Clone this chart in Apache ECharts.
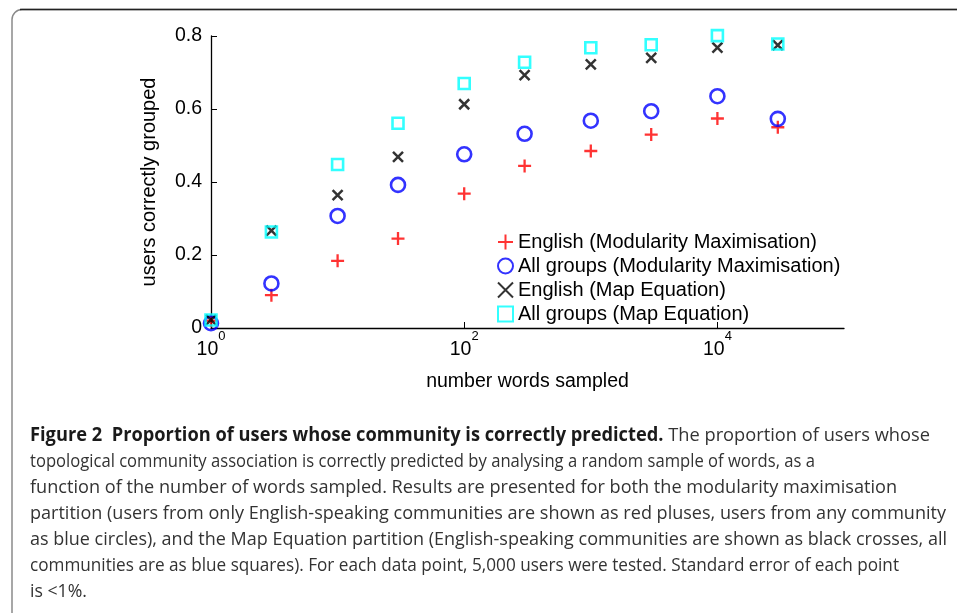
<!DOCTYPE html>
<html>
<head>
<meta charset="utf-8">
<script src="https://cdn.jsdelivr.net/npm/echarts@6/dist/echarts.min.js"></script>
<style>
html,body{margin:0;padding:0;background:#fff;}
#chart{width:957px;height:613px;}
</style>
</head>
<body>
<div id="chart"></div>
<script>
// ---- data ----
const wordsSampled = [1, 3, 10, 30, 100, 300, 1000, 3000, 10000, 30000];
const englishMM = [0.020, 0.090, 0.184, 0.245, 0.368, 0.444, 0.485, 0.530, 0.574, 0.550];
const allMM     = [0.013, 0.122, 0.307, 0.392, 0.476, 0.532, 0.568, 0.594, 0.635, 0.573];
const englishME = [0.022, 0.267, 0.364, 0.469, 0.613, 0.693, 0.722, 0.740, 0.768, 0.775];
const allME     = [0.022, 0.263, 0.448, 0.561, 0.670, 0.728, 0.768, 0.776, 0.801, 0.778];
const seriesNames = [
  'English (Modularity Maximisation)',
  'All groups (Modularity Maximisation)',
  'English (Map Equation)',
  'All groups (Map Equation)'
];
const xTickValues = [1, 100, 10000];
const xAxisName = 'number words sampled';
const yAxisName = 'users correctly grouped';
const captionBold = 'Figure 2  Proportion of users whose community is correctly predicted.';
const captionLines = [
  ' The proportion of users whose',
  'topological community association is correctly predicted by analysing a random sample of words, as a',
  'function of the number of words sampled. Results are presented for both the modularity maximisation',
  'partition (users from only English-speaking communities are shown as red pluses, users from any community',
  'as blue circles), and the Map Equation partition (English-speaking communities are shown as black crosses, all',
  'communities are as blue squares). For each data point, 5,000 users were tested. Standard error of each point',
  'is <1%.'
];

// ---- layout / style ----
const AXFONT = '"Liberation Sans", Arial, sans-serif';
const CAPFONT = '"Open Sans", "Noto Sans", sans-serif';
const capSize = 19;
const capTargets = [930, 815, 897, 946, 947, 899, null];
const capX = 30, capY0 = 436, capDy = 26;

const cv = document.createElement('canvas').getContext('2d');
function measure(t, weight) {
  cv.font = weight + ' ' + capSize + 'px ' + CAPFONT;
  return cv.measureText(t).width;
}

const graphics = [];
// frame
graphics.push({
  type: 'rect', silent: true,
  shape: {x: 12, y: 9.5, width: 1000, height: 700, r: [10, 0, 0, 0]},
  style: {fill: 'none', stroke: '#8a8a8a', lineWidth: 1.5}
});
graphics.push({
  type: 'line', silent: true,
  shape: {x1: 20, y1: 9.5, x2: 957, y2: 9.5},
  style: {stroke: '#222', lineWidth: 1.5}
});
// caption: each full line fitted to its width in the reference
const boldW = measure(captionBold, 'bold');
let scSum = 0, scN = 0;
captionLines.forEach((line, i) => {
  const y = capY0 + i * capDy;
  const w = measure(line, 'normal') + (i === 0 ? boldW : 0);
  let sc;
  if (capTargets[i]) { sc = (capTargets[i] - capX) / w; scSum += sc; scN++; }
  else { sc = scSum / scN; }
  let x = capX;
  if (i === 0) {
    graphics.push({
      type: 'text', silent: true, x: capX, y: y, scaleX: sc, scaleY: 1, originX: 0, originY: 0,
      style: {text: captionBold, font: 'bold ' + capSize + 'px ' + CAPFONT, fill: '#1a1a1a', verticalAlign: 'middle', align: 'left'}
    });
    x = capX + boldW * sc;
  }
  graphics.push({
    type: 'text', silent: true, x: x, y: y, scaleX: sc, scaleY: 1, originX: 0, originY: 0,
    style: {text: line, font: capSize + 'px ' + CAPFONT, fill: '#333', verticalAlign: 'middle', align: 'left'}
  });
});

function pairs(ys) { return wordsSampled.map((x, i) => [x, ys[i]]); }

const PLUS = 'path://M0,5L10,5M5,0L5,10';
const CROSS = 'path://M0,0L10,10M10,0L0,10';

const chart = echarts.init(document.getElementById('chart'), null, {renderer: 'canvas'});
chart.setOption({
  animation: false,
  backgroundColor: '#fff',
  grid: {left: 211, right: 113, top: 36, bottom: 285, containLabel: false},
  legend: {
    orient: 'vertical', left: 492, top: 227, padding: 5,
    itemWidth: 15, itemHeight: 15, itemGap: 4,
    textStyle: {fontFamily: AXFONT, fontSize: 20, color: '#000'},
    data: seriesNames
  },
  xAxis: {
    type: 'log', logBase: 10, min: 1, max: 100000,
    name: xAxisName, nameLocation: 'middle', nameGap: 44,
    nameTextStyle: {fontFamily: AXFONT, fontSize: 19.5, color: '#000'},
    axisLine: {lineStyle: {color: '#000', width: 1.3}},
    axisTick: {inside: true, length: 6, lineStyle: {color: '#000', width: 1}, customValues: xTickValues},
    axisLabel: {
      customValues: xTickValues, margin: 2,
      formatter: v => '{b|10}{s|' + Math.round(Math.log10(v)) + '}',
      rich: {
        b: {fontFamily: AXFONT, fontSize: 19.5, color: '#000', lineHeight: 30, verticalAlign: 'bottom'},
        s: {fontFamily: AXFONT, fontSize: 13, color: '#000', lineHeight: 14, verticalAlign: 'top'}
      }
    },
    splitLine: {show: false}, minorTick: {show: false}
  },
  yAxis: {
    type: 'value', min: 0, max: 0.8, interval: 0.2,
    name: yAxisName, nameLocation: 'middle', nameGap: 52,
    nameTextStyle: {fontFamily: AXFONT, fontSize: 20, color: '#000'},
    axisLine: {show: true, lineStyle: {color: '#000', width: 1.3}},
    axisTick: {show: true, inside: true, length: 6, lineStyle: {color: '#000', width: 1}},
    axisLabel: {fontFamily: AXFONT, fontSize: 19.5, color: '#000', margin: 9,
      formatter: v => String(+v.toFixed(1))},
    splitLine: {show: false}
  },
  series: [
    {name: seriesNames[0], type: 'scatter', data: pairs(englishMM), clip: false,
     symbol: PLUS, symbolSize: 13,
     itemStyle: {color: 'rgba(0,0,0,0)', borderColor: '#ff0000', borderWidth: 2.3}},
    {name: seriesNames[1], type: 'scatter', data: pairs(allMM), clip: false,
     symbol: 'circle', symbolSize: 14,
     itemStyle: {color: 'rgba(0,0,0,0)', borderColor: '#0000ff', borderWidth: 2.6}},
    {name: seriesNames[2], type: 'scatter', data: pairs(englishME), clip: false,
     symbol: CROSS, symbolSize: 10,
     itemStyle: {color: 'rgba(0,0,0,0)', borderColor: '#000', borderWidth: 2.5}},
    {name: seriesNames[3], type: 'scatter', data: pairs(allME), clip: false,
     symbol: 'rect', symbolSize: 11,
     itemStyle: {color: 'rgba(0,0,0,0)', borderColor: '#00ffff', borderWidth: 2.6}}
  ],
  graphic: graphics
});
</script>
</body>
</html>
